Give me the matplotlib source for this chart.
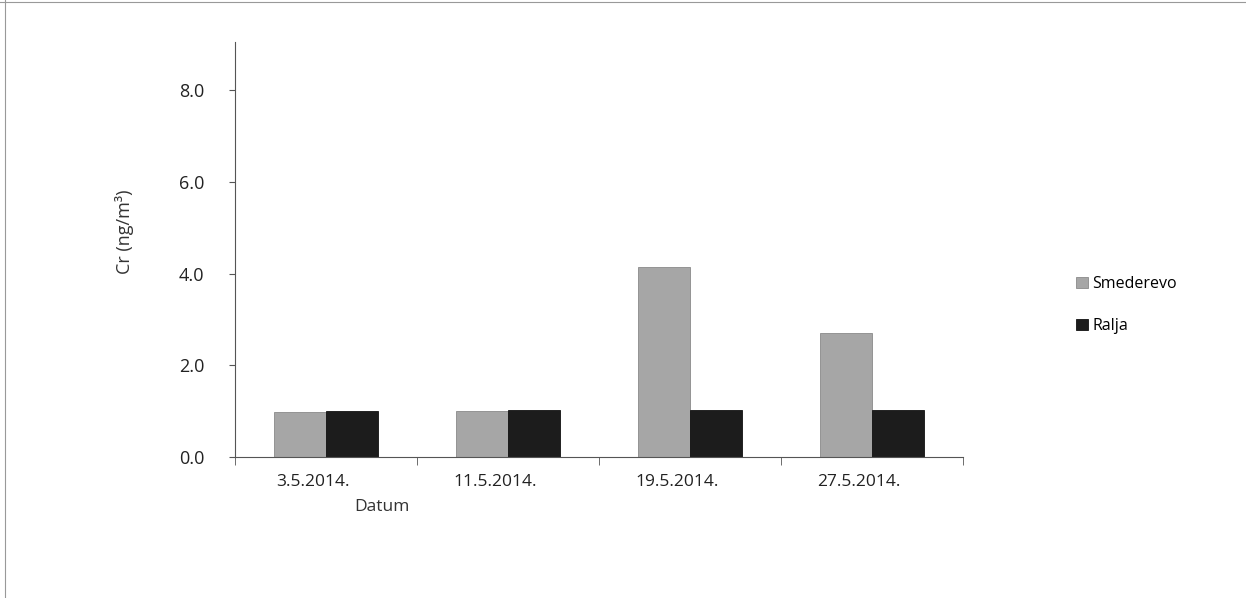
import matplotlib
matplotlib.use("Agg")
import matplotlib.pyplot as plt
import matplotlib.transforms as mtransforms
import numpy as np

categories = ["3.5.2014.", "11.5.2014.", "19.5.2014.", "27.5.2014."]
smederevo = [0.98, 1.00, 4.14, 2.70]
ralja = [1.00, 1.02, 1.02, 1.02]
yticks = [0.0, 2.0, 4.0, 6.0, 8.0]

plt.rcParams['font.family'] = ['Open Sans', 'DejaVu Sans']

fig = plt.figure(figsize=(12.46, 5.98), dpi=100)
ax = fig.add_axes([0.1886, 0.2358, 0.5844, 0.6942])

x = np.arange(len(categories))
w = 0.285
ax.bar(x - w/2, smederevo, width=w, color="#a6a6a6", edgecolor="#8a8a8a", linewidth=0.6, label="Smederevo")
ax.bar(x + w/2, ralja, width=w, color="#1c1c1c", edgecolor="#111111", linewidth=0.6, label="Ralja")

ax.set_xlim(-0.5, len(categories) - 0.5)
ax.set_ylim(0, 9.05)
ax.set_yticks(yticks)
ax.set_yticklabels([f"{v:.1f}" for v in yticks], fontsize=13, color="#222222")
ax.set_xticks(x)
ax.set_xticklabels(categories, fontsize=12.5, color="#222222")
ax.tick_params(axis='x', length=0, pad=12)
ax.set_xticks(np.arange(len(categories) + 1) - 0.5, minor=True)
ax.tick_params(axis='x', which='minor', length=6, direction='out', color="#555555")
ax.tick_params(axis='y', length=4, direction='out', color="#555555", pad=18)

offset = mtransforms.ScaledTranslation(-13/100, 0, fig.dpi_scale_trans)
for lab in ax.get_xticklabels():
    lab.set_transform(lab.get_transform() + offset)

for s in ["top", "right"]:
    ax.spines[s].set_visible(False)
for s in ["left", "bottom"]:
    ax.spines[s].set_color("#555555")
    ax.spines[s].set_linewidth(0.8)

fig.text(125/1246, 1 - 232/598, "Cr (ng/m³)", rotation=90, ha="center", va="center", fontsize=13, color="#333333")
fig.text(382/1246, 1 - 507/598, "Datum", ha="center", va="center", fontsize=12.5, color="#333333")

leg = fig.legend(loc="upper left", bbox_to_anchor=(1062/1246, 1 - 262/598), frameon=False,
                 fontsize=11.5, handlelength=0.7, handleheight=0.7, labelspacing=1.6, handletextpad=0.3)

# page border lines (top and left)
fig.add_artist(plt.Line2D([0, 1], [0.997, 0.997], transform=fig.transFigure, color="#999999", linewidth=0.8))
fig.add_artist(plt.Line2D([0.004, 0.004], [0, 1], transform=fig.transFigure, color="#999999", linewidth=0.8))

fig.savefig("out.png", dpi=100)
